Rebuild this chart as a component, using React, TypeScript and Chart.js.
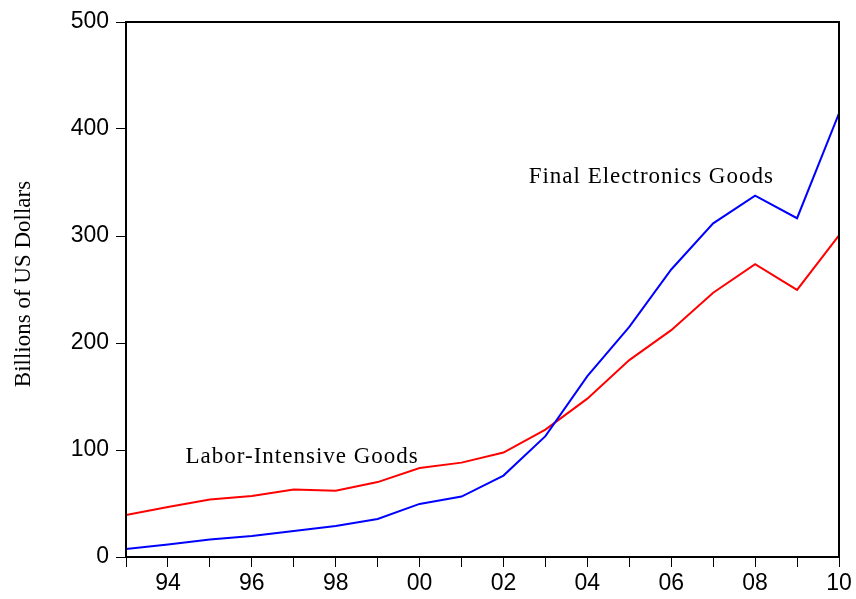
import React, { useEffect, useRef } from "react";
import { Chart, registerables } from "chart.js";

Chart.register(...registerables);

const years = [1993, 1994, 1995, 1996, 1997, 1998, 1999, 2000, 2001, 2002, 2003, 2004, 2005, 2006, 2007, 2008, 2009, 2010];
const finalElectronics = [7.5, 11.6, 16.3, 19.6, 24.3, 29, 35.5, 49.6, 56.5, 76.1, 112.9, 169, 215, 268.7, 311.8, 337.8, 316.6, 414.6];
const laborIntensive = [39.3, 46.8, 53.7, 57, 63, 62, 70, 83.2, 88.2, 97.6, 119, 148, 184, 212, 247, 273.7, 249.7, 300.5];
const yTicks = [0, 100, 200, 300, 400, 500];
const yTitle = "Billions of US Dollars";
const annotations = [
  { text: "Final Electronics Goods", x: 2002.6, y: 349.4 },
  { text: "Labor-Intensive Goods", x: 1994.42, y: 87.6 },
];

export default function App() {
  const ref = useRef<HTMLCanvasElement | null>(null);
  useEffect(() => {
    document.body.style.margin = "0";
    const canvas = ref.current!;
    const framePlugin = {
      id: "frame",
      afterDraw(chart: any) {
        const { ctx, chartArea: a, scales } = chart;
        ctx.save();
        ctx.strokeStyle = "#000";
        ctx.lineWidth = 2;
        ctx.strokeRect(a.left, a.top, a.right - a.left, a.bottom - a.top);
        ctx.fillStyle = "#000";
        ctx.font = '23px "Liberation Serif", "Times New Roman", serif';
        (ctx as any).letterSpacing = "1px";
        ctx.textBaseline = "alphabetic";
        ctx.textAlign = "left";
        for (const an of annotations) {
          ctx.fillText(an.text, scales.x.getPixelForValue(an.x), scales.y.getPixelForValue(an.y));
        }
        (ctx as any).letterSpacing = "0px";
        ctx.font = '23px "Liberation Serif", "Times New Roman", serif';
        ctx.translate(24, 284);
        ctx.rotate(-Math.PI / 2);
        ctx.textAlign = "center";
        ctx.textBaseline = "middle";
        ctx.fillText(yTitle, 0, 0);
        ctx.restore();
      },
    };
    const chart = new Chart(canvas, {
      type: "line",
      data: {
        datasets: [
          {
            label: "Final Electronics Goods",
            data: years.map((x, i) => ({ x, y: finalElectronics[i] })),
            borderColor: "#0000ff",
            borderWidth: 2,
            pointRadius: 0,
            tension: 0,
            fill: false,
          },
          {
            label: "Labor-Intensive Goods",
            data: years.map((x, i) => ({ x, y: laborIntensive[i] })),
            borderColor: "#ff0000",
            borderWidth: 2,
            pointRadius: 0,
            tension: 0,
            fill: false,
          },
        ],
      },
      options: {
        animation: false,
        responsive: false,
        maintainAspectRatio: false,
        layout: { padding: { left: 0, right: 17, top: 22, bottom: 0 } },
        plugins: { legend: { display: false }, tooltip: { enabled: false } },
        scales: {
          x: {
            type: "linear",
            min: 1993,
            max: 2010,
            afterFit(scale: any) {
              scale.height = 42;
            },
            afterBuildTicks(scale: any) {
              scale.ticks = years.map((v) => ({ value: v }));
            },
            grid: { drawOnChartArea: false, drawTicks: true, tickLength: 10, color: "#000", lineWidth: 1 },
            border: { display: true, color: "#000", width: 2 },
            ticks: {
              autoSkip: false,
              maxRotation: 0,
              padding: 3,
              color: "#000",
              font: { family: '"Liberation Sans", Arial, sans-serif', size: 23 },
              callback: (v: any) => (Number(v) % 2 === 0 ? String(Number(v) % 100).padStart(2, "0") : ""),
            },
          },
          y: {
            type: "linear",
            min: 0,
            max: 500,
            afterFit(scale: any) {
              scale.width = 126;
            },
            afterBuildTicks(scale: any) {
              scale.ticks = yTicks.map((v) => ({ value: v }));
            },
            grid: { drawOnChartArea: false, drawTicks: true, tickLength: 10, color: "#000", lineWidth: 1 },
            border: { display: true, color: "#000", width: 2 },
            ticks: {
              padding: 7,
              color: "#000",
              font: { family: '"Liberation Sans", Arial, sans-serif', size: 23 },
              callback: (v: any) => String(v),
            },
          },
        },
      },
      plugins: [framePlugin],
    });
    return () => chart.destroy();
  }, []);
  return <canvas ref={ref} width={856} height={599} style={{ display: "block", width: 856, height: 599 }} />;
}
